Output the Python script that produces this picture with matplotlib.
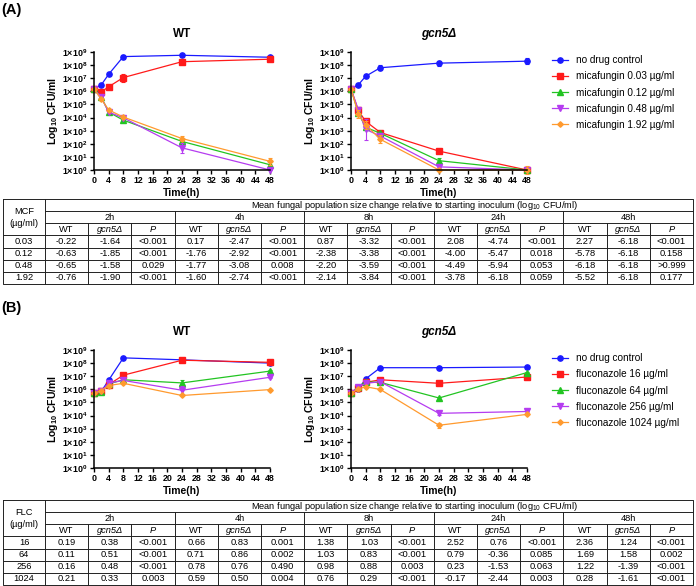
import matplotlib
matplotlib.use('Agg')
import matplotlib.pyplot as plt

plt.rcParams['font.family'] = ['Liberation Sans', 'DejaVu Sans']
plt.rcParams['mathtext.fontset'] = 'custom'
plt.rcParams['mathtext.rm'] = 'Liberation Sans'
plt.rcParams['mathtext.bf'] = 'Liberation Sans:bold'
plt.rcParams['mathtext.it'] = 'Liberation Sans:italic'

# sampling times (h)
times = [0, 2, 4, 8, 24, 48]

colors = ['#1a1aff', '#ff1a1a', '#22c422', '#b53cf0', '#ff9a2e']
markers = ['o', 's', '^', 'v', 'D']

# ---- (A) micafungin, log10 CFU/ml ----
mcf_labels = ['no drug control', 'micafungin 0.03 µg/ml', 'micafungin 0.12 µg/ml',
              'micafungin 0.48 µg/ml', 'micafungin 1.92 µg/ml']
wt_mcf = [[6.18, 6.50, 7.30, 8.65, 8.75, 8.60],
          [6.18, 5.96, 6.35, 7.05, 8.26, 8.45],
          [6.18, 5.55, 4.42, 3.80, 2.18, 0.40],
          [6.18, 5.53, 4.41, 3.98, 1.69, 0.00],
          [6.18, 5.42, 4.58, 4.04, 2.40, 0.66]]
wt_mcf_err = [[0.05, 0.05, 0.05, 0.10, 0.05, 0.10],
              [0.00, 0.05, 0.05, 0.30, 0.05, 0.10],
              [0.00, 0.10, 0.10, 0.05, 0.15, 0.20],
              [0.00, 0.15, 0.10, 0.05, 0.40, 0.00],
              [0.00, 0.10, 0.10, 0.05, 0.20, 0.25]]
gcn_mcf = [[6.18, 6.50, 7.15, 7.80, 8.15, 8.30],
           [6.18, 4.54, 3.71, 2.86, 1.44, 0.00],
           [6.18, 4.33, 3.26, 2.80, 0.71, 0.00],
           [6.18, 4.60, 3.10, 2.59, 0.24, 0.00],
           [6.18, 4.28, 3.44, 2.34, 0.00, 0.00]]
gcn_mcf_err = [[0.00, 0.05, 0.05, 0.20, 0.20, 0.25],
               [0.00, 0.10, 0.10, 0.10, 0.05, 0.10],
               [0.00, 0.10, 0.20, 0.10, 0.20, 0.10],
               [0.00, 0.10, 0.80, 0.20, 0.10, 0.10],
               [0.00, 0.30, 0.30, 0.30, 0.10, 0.30]]

# ---- (B) fluconazole, log10 CFU/ml ----
flc_labels = ['no drug control', 'fluconazole 16 µg/ml', 'fluconazole 64 µg/ml',
              'fluconazole 256 µg/ml', 'fluconazole 1024 µg/ml']
wt_flc = [[5.70, 5.85, 6.70, 8.40, 8.25, 8.00],
          [5.70, 5.89, 6.36, 7.08, 8.22, 8.06],
          [5.70, 5.81, 6.41, 6.73, 6.49, 7.39],
          [5.70, 5.86, 6.48, 6.68, 5.93, 6.92],
          [5.70, 5.91, 6.29, 6.46, 5.53, 5.98]]
wt_flc_err = [[0.05, 0.05, 0.10, 0.05, 0.05, 0.05],
              [0.00, 0.05, 0.05, 0.05, 0.05, 0.05],
              [0.00, 0.05, 0.05, 0.10, 0.20, 0.05],
              [0.00, 0.05, 0.05, 0.10, 0.30, 0.05],
              [0.00, 0.05, 0.05, 0.05, 0.05, 0.05]]
gcn_flc = [[5.70, 6.00, 6.80, 7.65, 7.65, 7.70],
           [5.70, 6.08, 6.53, 6.73, 6.46, 6.94],
           [5.70, 6.21, 6.56, 6.53, 5.34, 7.28],
           [5.70, 6.18, 6.46, 6.58, 4.17, 4.31],
           [5.70, 6.03, 6.20, 5.99, 3.26, 4.09]]
gcn_flc_err = [[0.10, 0.05, 0.05, 0.05, 0.05, 0.05],
               [0.00, 0.05, 0.05, 0.05, 0.05, 0.05],
               [0.00, 0.05, 0.05, 0.05, 0.05, 0.05],
               [0.00, 0.05, 0.05, 0.05, 0.15, 0.05],
               [0.00, 0.05, 0.05, 0.05, 0.20, 0.05]]

# ---- tables ----
table_title = 'Mean fungal population size change relative to starting inoculum (log$_{10}$ CFU/ml)'
hours = ['2h', '4h', '8h', '24h', '48h']
mcf_doses = ['0.03', '0.12', '0.48', '1.92']
mcf_rows = [
    ['-0.22', '-1.64', '<0.001', '0.17', '-2.47', '<0.001', '0.87', '-3.32', '<0.001', '2.08', '-4.74', '<0.001', '2.27', '-6.18', '<0.001'],
    ['-0.63', '-1.85', '<0.001', '-1.76', '-2.92', '<0.001', '-2.38', '-3.38', '<0.001', '-4.00', '-5.47', '0.018', '-5.78', '-6.18', '0.158'],
    ['-0.65', '-1.58', '0.029', '-1.77', '-3.08', '0.008', '-2.20', '-3.59', '<0.001', '-4.49', '-5.94', '0.053', '-6.18', '-6.18', '>0.999'],
    ['-0.76', '-1.90', '<0.001', '-1.60', '-2.74', '<0.001', '-2.14', '-3.84', '<0.001', '-3.78', '-6.18', '0.059', '-5.52', '-6.18', '0.177']]
flc_doses = ['16', '64', '256', '1024']
flc_rows = [
    ['0.19', '0.38', '<0.001', '0.66', '0.83', '0.001', '1.38', '1.03', '<0.001', '2.52', '0.76', '<0.001', '2.36', '1.24', '<0.001'],
    ['0.11', '0.51', '<0.001', '0.71', '0.86', '0.002', '1.03', '0.83', '<0.001', '0.79', '-0.36', '0.085', '1.69', '1.58', '0.002'],
    ['0.16', '0.48', '<0.001', '0.78', '0.76', '0.490', '0.98', '0.88', '0.003', '0.23', '-1.53', '0.063', '1.22', '-1.39', '<0.001'],
    ['0.21', '0.33', '0.003', '0.59', '0.50', '0.004', '0.76', '0.29', '<0.001', '-0.17', '-2.44', '0.003', '0.28', '-1.61', '<0.001']]


def draw_panel(ax, series, errs, labels, title, italic):
    for i in range(len(series)):
        ax.errorbar(times, series[i], yerr=errs[i], fmt='none', ecolor=colors[i],
                    elinewidth=0.8, capsize=1.6, capthick=0.8, clip_on=False)
        ax.plot(times, series[i], color=colors[i], marker=markers[i],
                ms=3.8 if markers[i] != 'D' else 2.8, lw=0.9, label=labels[i], clip_on=False)
    ax.set_xlim(0, 48)
    ax.set_ylim(0, 9)
    ax.set_xticks(range(0, 49, 4))
    ax.set_yticks(range(10))
    ax.set_yticklabels(['1×10$^{\\mathbf{%d}}$' % n for n in range(10)])
    for s in ['top', 'right']:
        ax.spines[s].set_visible(False)
    for s in ['left', 'bottom']:
        ax.spines[s].set_linewidth(1.1)
    ax.tick_params(length=3, width=1, labelsize=6.4, pad=1.5)
    for lab in ax.get_xticklabels() + ax.get_yticklabels():
        lab.set_fontweight('bold')
    ax.set_ylabel('Log$_{\\mathbf{10}}$ CFU/ml', fontsize=7.5, fontweight='bold', labelpad=2)
    ax.set_xlabel('Time(h)', fontsize=7.5, fontweight='bold', labelpad=2)
    ax.set_title(title, fontsize=8.5, fontweight='bold', style='italic' if italic else 'normal', pad=11)


def draw_table(ax, top, dose_head, doses, rows):
    h = 85 / 7
    x0, x1, xr = 3, 45, 693
    cw = (xr - x1) / 15
    ys = [top + i * h for i in range(8)]
    kw = dict(color='#222222', lw=0.7)
    ax.plot([x0, xr, xr, x0, x0], [ys[0], ys[0], ys[7], ys[7], ys[0]], **kw)
    ax.plot([x1, xr], [ys[1], ys[1]], **kw)
    ax.plot([x1, xr], [ys[2], ys[2]], **kw)
    for r in range(3, 7):
        ax.plot([x0, xr], [ys[r], ys[r]], **kw)
    ax.plot([x1, x1], [ys[0], ys[7]], **kw)
    for c in range(1, 15):
        xc = x1 + c * cw
        ax.plot([xc, xc], [ys[1] if c % 3 == 0 else ys[2], ys[7]], **kw)
    fs = 6.7
    ax.text(415, (ys[0] + ys[1]) / 2, table_title, fontsize=fs, ha='center', va='center')
    ax.text((x0 + x1) / 2, ys[1], dose_head, fontsize=fs, ha='center', va='center')
    ax.text((x0 + x1) / 2, ys[2], '(µg/ml)', fontsize=fs, ha='center', va='center')
    for g, hr in enumerate(hours):
        ax.text(x1 + (3 * g + 1.5) * cw, (ys[1] + ys[2]) / 2, hr, fontsize=fs, ha='center', va='center')
        for k, lab in enumerate(['WT', 'gcn5Δ', 'P']):
            ax.text(x1 + (3 * g + k + 0.5) * cw, (ys[2] + ys[3]) / 2, lab, fontsize=fs,
                    ha='center', va='center', style='normal' if k == 0 else 'italic')
    for r, (d, row) in enumerate(zip(doses, rows)):
        yc = (ys[3 + r] + ys[4 + r]) / 2
        ax.text((x0 + x1) / 2, yc, d, fontsize=fs, ha='center', va='center')
        for c, v in enumerate(row):
            ax.text(x1 + (c + 0.5) * cw, yc, v, fontsize=fs, ha='center', va='center')


W, H = 696, 586
fig = plt.figure(figsize=(W / 100, H / 100), dpi=100)


def frac(x, ytop, w, hgt):
    return [x / W, 1 - (ytop + hgt) / H, w / W, hgt / H]


ax1 = fig.add_axes(frac(94, 52, 176, 118))
ax2 = fig.add_axes(frac(351, 52, 176, 118))
ax3 = fig.add_axes(frac(94, 350, 176, 118))
ax4 = fig.add_axes(frac(351, 350, 176, 118))

draw_panel(ax1, wt_mcf, wt_mcf_err, mcf_labels, 'WT', False)
draw_panel(ax2, gcn_mcf, gcn_mcf_err, mcf_labels, 'gcn5Δ', True)
draw_panel(ax3, wt_flc, wt_flc_err, flc_labels, 'WT', False)
draw_panel(ax4, gcn_flc, gcn_flc_err, flc_labels, 'gcn5Δ', True)

for ax in [ax2, ax4]:
    ax.legend(loc='upper left', bbox_to_anchor=(1.09, 1.05), frameon=False, fontsize=7.2,
              handlelength=1.6, labelspacing=0.62, handletextpad=0.8)

ov = fig.add_axes([0, 0, 1, 1])
ov.set_xlim(0, W)
ov.set_ylim(H, 0)
ov.axis('off')
ov.patch.set_alpha(0)
ov.text(1, 10, '(A)', fontsize=10.5, fontweight='bold', ha='left', va='center')
ov.text(1, 308, '(B)', fontsize=10.5, fontweight='bold', ha='left', va='center')
draw_table(ov, 199, 'MCF', mcf_doses, mcf_rows)
draw_table(ov, 500, 'FLC', flc_doses, flc_rows)

fig.savefig('out.png', dpi=100)
